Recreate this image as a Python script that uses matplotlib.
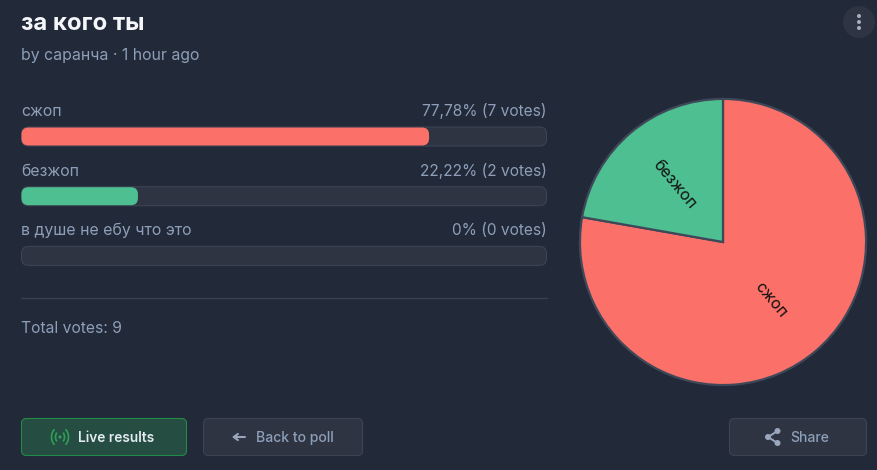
#!/usr/bin/python3

#
# Poll results card: option bars on the left, pie of votes on the right.
# Everything on the card is laid out in pixels of the 877x470 screenshot.
#

import matplotlib
matplotlib.use('Agg')
import matplotlib.pyplot as plt
from matplotlib.patches import FancyBboxPatch, Circle, Arc

options = ['сжоп', 'безжоп', 'в душе не ебу что это']
votes = [7, 2, 0]
percents = [77.78, 22.22, 0]
percent_labels = ['77,78% (7 votes)', '22,22% (2 votes)', '0% (0 votes)']
pie_labels = ['сжоп', 'безжоп']
pie_votes = [7, 2]
pie_rotations = [-50, -50]

BG = '#222938'
TRACK = '#2e3442'
EDGE = '#3c4353'
MUTED = '#8d9fb9'
RED = '#fb7068'
GREEN = '#4dbf91'
W, H = 877, 470

plt.rcParams['font.family'] = ['Inter', 'DejaVu Sans']


def px(size):
  return size * 0.72


def box(ax, x, y, w, h, r, face, edge='none', lw=1.0):
  ax.add_patch(FancyBboxPatch((x + r, y + r), w - 2 * r, h - 2 * r,
    boxstyle='round,pad=%f,rounding_size=%f' % (r, r),
    facecolor=face, edgecolor=edge, linewidth=lw))


fig = plt.figure(figsize=(W / 100, H / 100), dpi=100, facecolor=BG)
ax = fig.add_axes([0, 0, 1, 1])
ax.set_xlim(0, W)
ax.set_ylim(H, 0)
ax.axis('off')

# header
ax.text(21, 30, 'за кого ты', color='#f4f6f9', fontsize=px(24), fontweight='bold', va='baseline')
ax.text(21, 60, 'by саранча · 1 hour ago', color=MUTED, fontsize=px(15.8), va='baseline')

# menu button
ax.add_patch(Circle((859, 22), 16, color='#2e3442', lw=0))
for dy in (-6, 0, 6):
  ax.add_patch(Circle((859, 22 + dy), 2, color='#a3aec2', lw=0))

# option rows
track_x, track_w = 21.5, 525
for i, name in enumerate(options):
  top = 127 + i * 59.7
  ax.text(21, top - 11, name, color=MUTED, fontsize=px(15.85), va='baseline')
  ax.text(546.5, top - 11, percent_labels[i], color=MUTED, fontsize=px(15.5), va='baseline', ha='right')
  box(ax, track_x, top, track_w, 19, 7, TRACK, EDGE, 0.8)
  if percents[i] > 0:
    box(ax, track_x, top + 0.5, (track_w - 1) * percents[i] / 100, 18, 7, [RED, GREEN][i])

ax.plot([21, 547], [298, 298], color='#3a4150', lw=0.9)
ax.text(21, 333, 'Total votes: %d' % sum(votes), color=MUTED, fontsize=px(15.7), va='baseline')

# live results button
box(ax, 21.5, 418.5, 165, 37, 5, '#264d41', '#218a46', 0.8)
ax.add_patch(Circle((60, 437), 1.6, color='#2f9e58', lw=0))
for d, start in ((9, 125), (9, -55), (17, 125), (17, -55)):
  ax.add_patch(Arc((60, 437), d, d + 3, theta1=start, theta2=start + 110, color='#2f9e58', lw=1.2))
ax.text(78, 442, 'Live results', color='#e4eaf2', fontsize=px(13.7), fontweight='semibold', va='baseline')

# back button
box(ax, 203.5, 418.5, 159, 37, 5, TRACK, EDGE, 0.8)
ax.annotate('', xy=(232, 437), xytext=(245, 437),
  arrowprops=dict(arrowstyle='->,head_width=0.22,head_length=0.3', color='#9aa6bc', lw=1.5, shrinkA=0, shrinkB=0))
ax.text(256, 442, 'Back to poll', color=MUTED, fontsize=px(14), fontweight='medium', va='baseline')

# share button
box(ax, 729.5, 418.5, 137, 37, 5, TRACK, EDGE, 0.8)
ax.plot([777.5, 768, 777.5], [431, 437, 443], color='#9aa6bc', lw=1.4)
for sx, sy in ((777.5, 431), (768, 437), (777.5, 443)):
  ax.add_patch(Circle((sx, sy), 3, color='#9aa6bc', lw=0))
ax.text(790.5, 442, 'Share', color=MUTED, fontsize=px(14), fontweight='medium', va='baseline')

# pie
cx, cy, r = 723, 242, 144.5
pie_ax = fig.add_axes([(cx - r) / W, 1 - (cy + r) / H, 2 * r / W, 2 * r / H])
wedges, texts = pie_ax.pie(pie_votes, colors=[RED, GREEN], labels=pie_labels,
  startangle=90, counterclock=False, labeldistance=0.525, radius=1.0,
  wedgeprops=dict(edgecolor='#3f4859', linewidth=1.6),
  textprops=dict(color='#111111', fontsize=px(16), ha='center', va='center'))
for t, rot in zip(texts, pie_rotations):
  t.set_rotation(rot)
  t.set_rotation_mode('anchor')
pie_ax.set_xlim(-1.01, 1.01)
pie_ax.set_ylim(-1.01, 1.01)

fig.savefig('out.png', dpi=100, facecolor=BG)
